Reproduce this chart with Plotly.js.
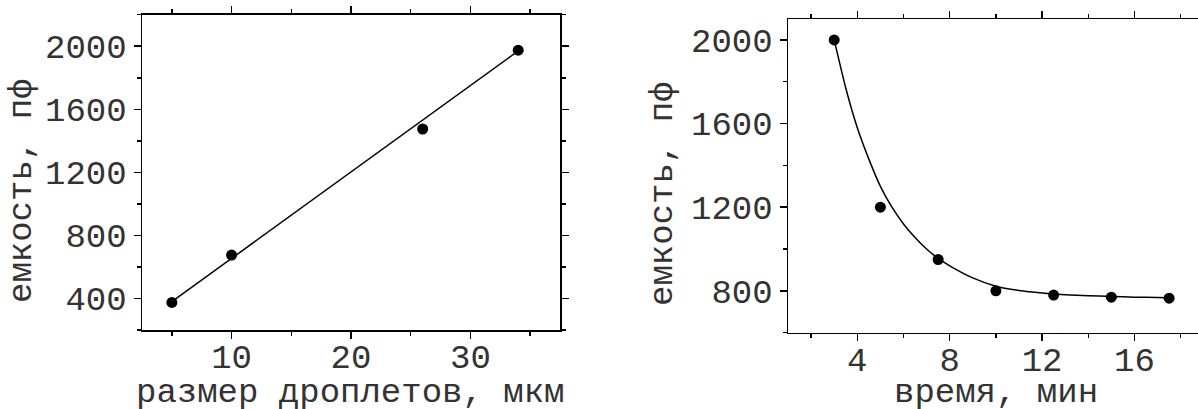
<!DOCTYPE html>
<html>
<head>
<meta charset="utf-8">
<script src="https://cdn.plot.ly/plotly-3.0.1.min.js"></script>
<style>html,body{margin:0;padding:0;background:#fff;}#chart{width:1198px;height:409px;}</style>
</head>
<body>
<div id="chart"></div>
<script>
// Left panel: capacitance vs droplet size
const sizeX = [5, 10, 26, 34];
const sizeCap = [375, 675, 1475, 1975];
const sizeFitX = [5, 34];
const sizeFitY = [380, 1970];

// Right panel: capacitance vs time
const timeX = [3, 5, 7.5, 10, 12.5, 15, 17.5];
const timeCap = [2000, 1200, 950, 800, 780, 770, 765];
const curveX = [3, 3.5, 4, 4.5, 5, 5.5, 6, 6.5, 7, 7.5, 8, 9, 10, 11, 12, 13, 14, 15, 16, 17, 17.5];
const curveY = [2000, 1770, 1580, 1430, 1300, 1200, 1120, 1055, 1000, 955, 920, 862, 822, 802, 790, 782, 777, 773, 770, 768, 767];

const xTitleLeft = 'размер дроплетов, мкм';
const xTitleRight = 'время, мин';
const yTitle = 'емкость, пф';

const W = 1198, H = 409;
const px = v => v / W;
const py = v => (H - v) / H;

const FONT = 'Liberation Mono, Courier New, monospace';
const TXT = '#333';

function axisBase(extra) {
  return Object.assign({
    showgrid: false, zeroline: false, showline: true, linecolor: '#000', linewidth: 1.5,
    ticks: 'outside', ticklen: 7, tickwidth: 1.5, tickcolor: '#000',
    mirror: 'allticks',
    tickfont: {family: FONT, size: 34, color: TXT},
    fixedrange: true
  }, extra);
}

const traces = [
  {x: sizeFitX, y: sizeFitY, xaxis: 'x', yaxis: 'y', mode: 'lines', line: {color: '#000', width: 1.5}, hoverinfo: 'skip'},
  {x: sizeX, y: sizeCap, xaxis: 'x', yaxis: 'y', mode: 'markers', marker: {color: '#000', size: 11}},
  {x: curveX, y: curveY, xaxis: 'x2', yaxis: 'y2', mode: 'lines', line: {color: '#000', width: 1.5, shape: 'spline', smoothing: 0.6}, hoverinfo: 'skip'},
  {x: timeX, y: timeCap, xaxis: 'x2', yaxis: 'y2', mode: 'markers', marker: {color: '#000', size: 11}}
];

const layout = {
  width: W, height: H,
  margin: {l: 0, r: 0, t: 0, b: 0},
  paper_bgcolor: '#fff', plot_bgcolor: '#fff',
  showlegend: false,
  xaxis: axisBase({domain: [px(142), px(560)], range: [2.5, 37.5], dtick: 10, tick0: 0, ticklabelstandoff: -11,
    minor: {dtick: 5, tick0: 0, ticks: 'outside', ticklen: 4, tickwidth: 1.5, tickcolor: '#000'}, anchor: 'y'}),
  yaxis: axisBase({domain: [py(330), py(14.7)], range: [200, 2200], dtick: 400, tick0: 0,
    minor: {dtick: 200, tick0: 0, ticks: 'outside', ticklen: 4, tickwidth: 1.5, tickcolor: '#000'}, anchor: 'x'}),
  xaxis2: axisBase({domain: [px(788), 1], range: [1, 18.75], dtick: 4, tick0: 0, ticklabelstandoff: -11,
    minor: {dtick: 2, tick0: 0, ticks: 'outside', ticklen: 4, tickwidth: 1.5, tickcolor: '#000'}, anchor: 'y2'}),
  yaxis2: axisBase({domain: [py(332.7), py(19)], range: [600, 2100], dtick: 400, tick0: 0, mirror: false,
    minor: {dtick: 200, tick0: 0, ticks: 'outside', ticklen: 4, tickwidth: 1.5, tickcolor: '#000'}, anchor: 'x2'}),
  annotations: [
    {text: xTitleLeft, xref: 'paper', yref: 'paper', x: px(350), y: py(414), xanchor: 'center', yanchor: 'bottom', showarrow: false, font: {family: FONT, size: 34, color: TXT}},
    {text: xTitleRight, xref: 'paper', yref: 'paper', x: px(996), y: py(414), xanchor: 'center', yanchor: 'bottom', showarrow: false, font: {family: FONT, size: 34, color: TXT}},
    {text: yTitle, xref: 'paper', yref: 'paper', x: px(22), y: py(191), xanchor: 'center', yanchor: 'middle', textangle: -90, showarrow: false, font: {family: FONT, size: 34, color: TXT}},
    {text: yTitle, xref: 'paper', yref: 'paper', x: px(663), y: py(194), xanchor: 'center', yanchor: 'middle', textangle: -90, showarrow: false, font: {family: FONT, size: 34, color: TXT}}
  ]
};

Plotly.newPlot('chart', traces, layout, {displayModeBar: false, staticPlot: true});
</script>
</body>
</html>
